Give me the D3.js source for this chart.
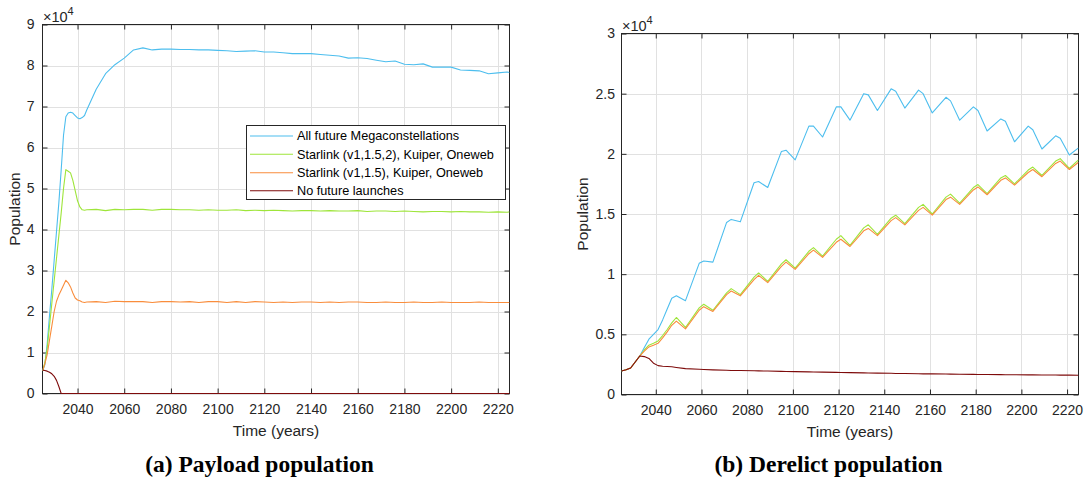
<!DOCTYPE html>
<html>
<head>
<meta charset="utf-8">
<script src="https://cdn.jsdelivr.net/npm/d3@7"></script>
<style>
  html, body { margin: 0; padding: 0; background: #fff; }
  svg { display: block; font-family: "Liberation Sans", Arial, Helvetica, sans-serif; }
</style>
</head>
<body>
<svg id="fig" width="1087" height="485"></svg>
<script>
// ---------- (a) Payload population, in units of 10^4 objects ----------
const payloadYears = [
  2025, 2026, 2027, 2028, 2029, 2030, 2031, 2032, 2033, 2034,
  2035, 2036, 2037, 2038, 2039, 2040, 2041, 2042, 2043, 2044,
  2048, 2052, 2056, 2060, 2064, 2068, 2072, 2076, 2080, 2084,
  2088, 2092, 2096, 2100, 2104, 2108, 2112, 2116, 2120, 2124,
  2128, 2132, 2136, 2140, 2144, 2148, 2152, 2156, 2160, 2164,
  2168, 2172, 2176, 2180, 2184, 2188, 2192, 2196, 2200, 2204,
  2208, 2212, 2216, 2220, 2224, 2225
];
const payloadAllMega = [
  0.55, 0.70, 1.20, 1.90, 2.55, 3.25, 3.95, 4.65, 5.45, 6.30,
  6.75, 6.84, 6.86, 6.84, 6.78, 6.72, 6.70, 6.73, 6.78, 6.92,
  7.42, 7.80, 8.02, 8.18, 8.38, 8.43, 8.38, 8.40, 8.40, 8.39,
  8.39, 8.38, 8.38, 8.37, 8.36, 8.34, 8.35, 8.36, 8.33, 8.33,
  8.31, 8.29, 8.29, 8.29, 8.27, 8.25, 8.23, 8.18, 8.19, 8.17,
  8.13, 8.09, 8.11, 8.03, 8.02, 8.04, 7.96, 7.96, 7.96, 7.89,
  7.88, 7.87, 7.80, 7.82, 7.84, 7.83
];
const payloadStarlinkV2 = [
  0.55, 0.75, 1.10, 1.65, 2.20, 2.75, 3.30, 3.85, 4.40, 5.00,
  5.46, 5.42, 5.38, 5.20, 4.95, 4.70, 4.55, 4.48, 4.47, 4.48,
  4.49, 4.46, 4.49, 4.48, 4.49, 4.49, 4.47, 4.49, 4.49, 4.48,
  4.48, 4.47, 4.48, 4.47, 4.47, 4.48, 4.46, 4.47, 4.46, 4.47,
  4.46, 4.45, 4.46, 4.46, 4.45, 4.46, 4.45, 4.45, 4.46, 4.44,
  4.45, 4.45, 4.44, 4.45, 4.44, 4.43, 4.44, 4.44, 4.43, 4.44,
  4.43, 4.43, 4.42, 4.43, 4.42, 4.43
];
const payloadStarlinkV15 = [
  0.55, 0.72, 0.95, 1.30, 1.65, 2.00, 2.25, 2.40, 2.52, 2.64,
  2.76, 2.70, 2.60, 2.45, 2.33, 2.28, 2.26, 2.23, 2.22, 2.23,
  2.24, 2.22, 2.25, 2.24, 2.24, 2.24, 2.22, 2.24, 2.24, 2.23,
  2.24, 2.22, 2.24, 2.24, 2.22, 2.24, 2.22, 2.24, 2.23, 2.22,
  2.23, 2.22, 2.23, 2.23, 2.22, 2.23, 2.22, 2.23, 2.23, 2.22,
  2.22, 2.23, 2.22, 2.22, 2.23, 2.22, 2.22, 2.23, 2.22, 2.22,
  2.22, 2.23, 2.22, 2.22, 2.22, 2.22
];
const payloadNoLaunch = [
  0.57, 0.56, 0.545, 0.52, 0.48, 0.42, 0.32, 0.17, 0, 0,
  0, 0, 0, 0, 0, 0, 0, 0, 0, 0,
  0, 0, 0, 0, 0, 0, 0, 0, 0, 0,
  0, 0, 0, 0, 0, 0, 0, 0, 0, 0,
  0, 0, 0, 0, 0, 0, 0, 0, 0, 0,
  0, 0, 0, 0, 0, 0, 0, 0, 0, 0,
  0, 0, 0, 0, 0, 0
];

// ---------- (b) Derelict population, in units of 10^4 objects ----------
const derelictYears = [
  2025, 2027, 2029, 2031, 2033, 2035, 2037, 2039, 2041, 2043, 2045, 2047, 2049, 2053,
  2059, 2061, 2065, 2071, 2073, 2077, 2083, 2085, 2089, 2095, 2097, 2101,
  2107, 2109, 2113, 2119, 2121, 2125, 2131, 2133, 2137, 2143, 2145, 2149,
  2155, 2157, 2161, 2167, 2169, 2173, 2179, 2181, 2185, 2191, 2193, 2197,
  2203, 2205, 2209, 2215, 2217, 2221, 2225
];
const derelictAllMega = [
  0.196, 0.205, 0.22, 0.27, 0.32, 0.39, 0.46, 0.50, 0.54, 0.62, 0.71, 0.80, 0.82, 0.78,
  1.09, 1.11, 1.10, 1.43, 1.455, 1.435, 1.76, 1.77, 1.72, 2.02, 2.03, 1.95,
  2.23, 2.23, 2.14, 2.39, 2.39, 2.28, 2.50, 2.49, 2.36, 2.54, 2.52, 2.38,
  2.53, 2.50, 2.34, 2.47, 2.44, 2.28, 2.39, 2.36, 2.19, 2.29, 2.27, 2.10,
  2.23, 2.20, 2.04, 2.15, 2.13, 1.99, 2.05
];
const derelictStarlinkV2 = [
  0.196, 0.205, 0.22, 0.27, 0.32, 0.37, 0.41, 0.425, 0.445, 0.49, 0.54, 0.595, 0.64, 0.557,
  0.72, 0.75, 0.70, 0.845, 0.88, 0.83, 0.975, 1.01, 0.94, 1.085, 1.12, 1.05,
  1.19, 1.22, 1.15, 1.29, 1.32, 1.24, 1.385, 1.41, 1.33, 1.465, 1.49, 1.42,
  1.555, 1.58, 1.50, 1.64, 1.665, 1.59, 1.72, 1.745, 1.67, 1.80, 1.82, 1.75,
  1.865, 1.89, 1.82, 1.94, 1.96, 1.88, 1.95
];
const derelictStarlinkV15 = [
  0.196, 0.205, 0.22, 0.27, 0.32, 0.36, 0.395, 0.41, 0.425, 0.47, 0.52, 0.575, 0.61, 0.545,
  0.70, 0.73, 0.69, 0.83, 0.86, 0.82, 0.955, 0.99, 0.93, 1.065, 1.10, 1.04,
  1.17, 1.20, 1.14, 1.265, 1.29, 1.23, 1.36, 1.38, 1.32, 1.445, 1.47, 1.41,
  1.53, 1.555, 1.49, 1.62, 1.64, 1.58, 1.70, 1.725, 1.66, 1.78, 1.80, 1.74,
  1.845, 1.87, 1.81, 1.92, 1.94, 1.87, 1.93
];
const derelictNoLaunch = [
  0.196, 0.205, 0.22, 0.27, 0.32, 0.315, 0.30, 0.26, 0.24, 0.235, 0.233, 0.23, 0.225, 0.215,
  0.21, 0.208, 0.205, 0.202, 0.20, 0.199, 0.197, 0.196, 0.195, 0.192, 0.191, 0.19,
  0.188, 0.187, 0.186, 0.184, 0.183, 0.182, 0.18, 0.179, 0.178, 0.176, 0.175, 0.174,
  0.172, 0.171, 0.171, 0.17, 0.169, 0.168, 0.167, 0.166, 0.166, 0.165, 0.164, 0.164,
  0.163, 0.163, 0.162, 0.162, 0.161, 0.161, 0.16
];

// ---------- shared labels ----------
const seriesNames = [
  "All future Megaconstellations",
  "Starlink (v1,1.5,2), Kuiper, Oneweb",
  "Starlink (v1,1.5), Kuiper, Oneweb",
  "No future launches"
];
const seriesColors = ["#4dbeee", "#9ee53a", "#f98d3c", "#7e0b0b"];
const yearTicks = [2040, 2060, 2080, 2100, 2120, 2140, 2160, 2180, 2200, 2220];
const payloadTicks = [0, 1, 2, 3, 4, 5, 6, 7, 8, 9];
const derelictTicks = [0, 0.5, 1, 1.5, 2, 2.5, 3];
const captions = ["(a) Payload population", "(b) Derelict population"];

const AXIS = "#262626";
const GRID = "#e1e1e1";
const svg = d3.select("#fig");

function drawPanel(cfg) {
  const x = d3.scaleLinear().domain([2025, 2225]).range([cfg.left, cfg.right]);
  const y = d3.scaleLinear().domain([0, cfg.yTicks[cfg.yTicks.length - 1]]).range([cfg.bottom, cfg.top]);
  const g = svg.append("g");

  // grid
  g.append("g").selectAll("line").data(yearTicks).join("line")
    .attr("x1", d => Math.round(x(d)) + 0.5).attr("x2", d => Math.round(x(d)) + 0.5)
    .attr("y1", cfg.top).attr("y2", cfg.bottom)
    .attr("stroke", GRID).attr("stroke-width", 1);
  g.append("g").selectAll("line").data(cfg.yTicks).join("line")
    .attr("y1", d => Math.round(y(d)) + 0.5).attr("y2", d => Math.round(y(d)) + 0.5)
    .attr("x1", cfg.left).attr("x2", cfg.right)
    .attr("stroke", GRID).attr("stroke-width", 1);

  // axes: ticks point inward on all four sides
  const styleAxis = sel => {
    sel.select(".domain").remove();
    sel.selectAll(".tick line").attr("stroke", AXIS);
    sel.selectAll(".tick text").attr("fill", AXIS).attr("font-size", 14)
      .attr("font-family", "Liberation Sans, Arial, sans-serif");
  };
  g.append("g").attr("transform", `translate(0,${cfg.bottom})`)
    .call(d3.axisBottom(x).tickValues(yearTicks).tickFormat(d3.format("d"))
      .tickSizeInner(-5).tickSizeOuter(0).tickPadding(11))
    .call(styleAxis);
  g.append("g").attr("transform", `translate(0,${cfg.top})`)
    .call(d3.axisTop(x).tickValues(yearTicks).tickFormat("")
      .tickSizeInner(-5).tickSizeOuter(0))
    .call(styleAxis);
  g.append("g").attr("transform", `translate(${cfg.left},0)`)
    .call(d3.axisLeft(y).tickValues(cfg.yTicks).tickFormat(d3.format("~g"))
      .tickSizeInner(-5).tickSizeOuter(0).tickPadding(cfg.labelPad))
    .call(styleAxis);
  g.append("g").attr("transform", `translate(${cfg.right},0)`)
    .call(d3.axisRight(y).tickValues(cfg.yTicks).tickFormat("")
      .tickSizeInner(-5).tickSizeOuter(0))
    .call(styleAxis);

  // box
  g.append("rect")
    .attr("x", cfg.left).attr("y", cfg.top)
    .attr("width", cfg.right - cfg.left).attr("height", cfg.bottom - cfg.top)
    .attr("fill", "none").attr("stroke", AXIS).attr("stroke-width", 1);

  // series, drawn over the box so a zero-valued line covers the baseline
  const clipId = "clip-" + cfg.id;
  g.append("clipPath").attr("id", clipId).append("rect")
    .attr("x", cfg.left).attr("y", cfg.top - 1)
    .attr("width", cfg.right - cfg.left).attr("height", cfg.bottom - cfg.top + 2);
  const line = d3.line().x((d, i) => x(cfg.years[i])).y(d => y(d));
  cfg.series.forEach((vals, k) => {
    g.append("path").datum(vals)
      .attr("clip-path", `url(#${clipId})`)
      .attr("d", line)
      .attr("fill", "none")
      .attr("stroke", seriesColors[k])
      .attr("stroke-width", 1.1)
      .attr("stroke-linejoin", "round");
  });

  // exponent label
  const ex = g.append("text").attr("x", cfg.left + 0.5).attr("y", cfg.top - 2.8)
    .attr("fill", AXIS).attr("font-size", 14.5);
  ex.append("tspan").text("\u00d710");
  ex.append("tspan").attr("font-size", 11).attr("dy", -6.5).text("4");

  // axis titles
  g.append("text")
    .attr("x", (cfg.left + cfg.right) / 2).attr("y", cfg.bottom + 42)
    .attr("text-anchor", "middle").attr("fill", AXIS).attr("font-size", 15.5)
    .text("Time (years)");
  g.append("text")
    .attr("transform", `translate(${cfg.ylabelX},${(cfg.top + cfg.bottom) / 2}) rotate(-90)`)
    .attr("text-anchor", "middle").attr("fill", AXIS).attr("font-size", 15.5)
    .text("Population");

  // caption
  svg.append("text")
    .attr("x", cfg.captionX).attr("y", 472)
    .attr("text-anchor", "middle")
    .attr("font-family", "Liberation Serif, Times New Roman, serif")
    .attr("font-weight", "bold").attr("font-size", 23.5).attr("fill", "#000")
    .text(cfg.caption);

  return { g, x, y };
}

drawPanel({
  id: "payload", left: 42.5, right: 509.5, top: 24.5, bottom: 393.5,
  years: payloadYears,
  series: [payloadAllMega, payloadStarlinkV2, payloadStarlinkV15, payloadNoLaunch],
  yTicks: payloadTicks, labelPad: 8, ylabelX: 19.5,
  captionX: 259.5, caption: captions[0]
});

drawPanel({
  id: "derelict", left: 621.5, right: 1078.5, top: 33.5, bottom: 394.5,
  years: derelictYears,
  series: [derelictAllMega, derelictStarlinkV2, derelictStarlinkV15, derelictNoLaunch],
  yTicks: derelictTicks, labelPad: 6.5, ylabelX: 587.5,
  captionX: 828.5, caption: captions[1]
});

// legend for the payload panel
const legend = svg.append("g");
legend.append("rect")
  .attr("x", 246.5).attr("y", 125.5).attr("width", 259).attr("height", 74)
  .attr("fill", "#fff").attr("stroke", AXIS).attr("stroke-width", 1);
const rowY = [136, 154.3, 172.7, 190.7];
seriesNames.forEach((name, i) => {
  legend.append("line")
    .attr("x1", 250).attr("x2", 293).attr("y1", rowY[i]).attr("y2", rowY[i])
    .attr("stroke", seriesColors[i]).attr("stroke-width", 1.1);
  legend.append("text")
    .attr("x", 297).attr("y", rowY[i]).attr("dy", "0.35em")
    .attr("fill", "#000").attr("font-size", 12.7)
    .text(name);
});
</script>
</body>
</html>
